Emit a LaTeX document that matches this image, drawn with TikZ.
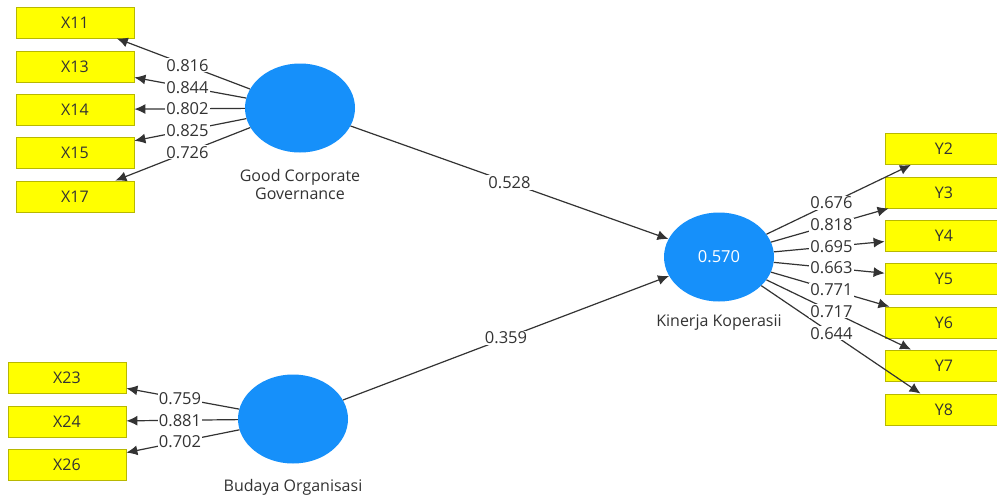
\documentclass[tikz,border=0pt]{standalone}
\usepackage{fontspec}
\setmainfont{Open Sans}
\usetikzlibrary{shapes.geometric,calc,arrows.meta}
\definecolor{lv}{HTML}{1690FA}
\definecolor{boxfill}{HTML}{FFFF00}
\definecolor{boxline}{HTML}{B8B800}
\definecolor{ink}{HTML}{333333}
\tikzset{
  latent/.style={ellipse, fill=lv, draw=none, minimum width=110pt, minimum height=89pt, inner sep=0pt},
  indic/.style={rectangle, fill=boxfill, draw=boxline, line width=0.8pt, minimum width=118pt, minimum height=31pt, inner sep=0pt, text=ink, font=\fontsize{16}{18}\selectfont},
  arr/.style={draw=ink, line width=1.2pt, -{Latex[length=11pt,width=10pt]}},
  lbl/.style={fill=white, inner sep=1pt, text=ink, font=\fontsize{16.5}{18}\selectfont},
  lvcap/.style={text=ink, align=center, font=\fontsize{16}{18}\selectfont}
}
\begin{document}
\begin{tikzpicture}[x=1pt,y=-1pt]
\clip (0,0) rectangle (997,499);
\fill[white] (0,0) rectangle (997,499);
% latent variables
\node[latent] (gcg) at (300,108) {};
\node[latent] (bo) at (293,419) {};
\node[latent, text=white, font=\fontsize{16.5}{18}\selectfont] (kk) at (719,257) {0.570};
\node[lvcap] (gcgl) at (300,184) {Good Corporate\\Governance};
\node[lvcap] (bol) at (293,487) {Budaya Organisasi};
\node[lvcap] (kkl) at (719,323) {Kinerja Koperasii};
% indicators left
\node[indic] (x11) at (75,22.5) {X11};
\node[indic] (x13) at (75,66.5) {X13};
\node[indic] (x14) at (75,109.5) {X14};
\node[indic] (x15) at (75,152.5) {X15};
\node[indic] (x17) at (75,196.5) {X17};
\node[indic] (x23) at (67,377.5) {X23};
\node[indic] (x24) at (67,421.5) {X24};
\node[indic] (x26) at (67,464.5) {X26};
% indicators right
\node[indic] (y2) at (944,149) {Y2};
\node[indic] (y3) at (944,192.5) {Y3};
\node[indic] (y4) at (944,236) {Y4};
\node[indic] (y5) at (944,279) {Y5};
\node[indic] (y6) at (944,322.5) {Y6};
\node[indic] (y7) at (944,365.5) {Y7};
\node[indic] (y8) at (944,409.5) {Y8};
% connectors
\foreach \a/\b in {gcg/x11,gcg/x13,gcg/x14,gcg/x15,gcg/x17,bo/x23,bo/x24,bo/x26,kk/y2,kk/y3,kk/y4,kk/y5,kk/y6,kk/y7,kk/y8,gcg/kk,bo/kk}
  \draw[arr] (\a) -- (\b);
% labels
\foreach \a/\b/\t in {gcg/x11/0.816,gcg/x13/0.844,gcg/x14/0.802,gcg/x15/0.825,gcg/x17/0.726,bo/x23/0.759,bo/x24/0.881,bo/x26/0.702,kk/y2/0.676,kk/y3/0.818,kk/y4/0.695,kk/y5/0.663,kk/y6/0.771,kk/y7/0.717,kk/y8/0.644,gcg/kk/0.528,bo/kk/0.359}
  \node[lbl] (l\a\b) at ($(\a)!0.5!(\b)$) {\t};
\end{tikzpicture}
\end{document}
